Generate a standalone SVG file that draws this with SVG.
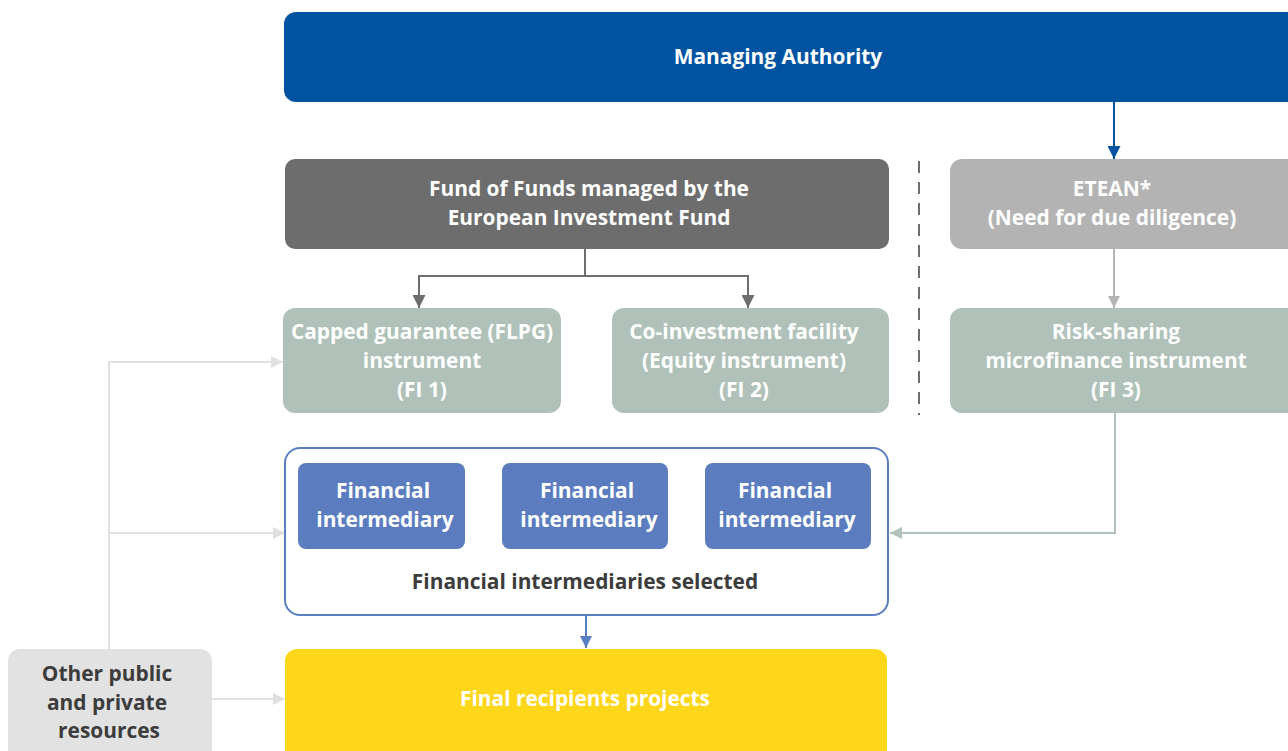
<svg xmlns="http://www.w3.org/2000/svg" width="1288" height="751" viewBox="0 0 1288 751">
  <defs>
    <style>
      text { font-family: "Open Sans", "Liberation Sans", sans-serif; font-weight: bold; font-size: 20.9px; text-anchor: middle; }
      .w { fill: #ffffff; }
      .d { fill: #3c3c3c; }
      .conn { fill: none; stroke-width: 2; }
    </style>
    <marker id="ahBlue" viewBox="0 0 10 10" refX="10" refY="5" markerWidth="13" markerHeight="13" markerUnits="userSpaceOnUse" orient="auto">
      <path d="M0,0 L10,5 L0,10 Z" fill="#0053a0"/>
    </marker>
    <marker id="ahDark" viewBox="0 0 10 10" refX="10" refY="5" markerWidth="13" markerHeight="13" markerUnits="userSpaceOnUse" orient="auto">
      <path d="M0,0 L10,5 L0,10 Z" fill="#6d6d6d"/>
    </marker>
    <marker id="ahGray" viewBox="0 0 10 10" refX="10" refY="5" markerWidth="12" markerHeight="12" markerUnits="userSpaceOnUse" orient="auto">
      <path d="M0,0 L10,5 L0,10 Z" fill="#b5b5b5"/>
    </marker>
    <marker id="ahSage" viewBox="0 0 10 10" refX="10" refY="5" markerWidth="12" markerHeight="12" markerUnits="userSpaceOnUse" orient="auto">
      <path d="M0,0 L10,5 L0,10 Z" fill="#b0c2b9"/>
    </marker>
    <marker id="ahLight" viewBox="0 0 10 10" refX="10" refY="5" markerWidth="12" markerHeight="12" markerUnits="userSpaceOnUse" orient="auto">
      <path d="M0,0 L10,5 L0,10 Z" fill="#e0e0e0"/>
    </marker>
    <marker id="ahFi" viewBox="0 0 10 10" refX="10" refY="5" markerWidth="12" markerHeight="12" markerUnits="userSpaceOnUse" orient="auto">
      <path d="M0,0 L10,5 L0,10 Z" fill="#5a7ec0"/>
    </marker>
  </defs>

  <rect width="1288" height="751" fill="#ffffff"/>

  <!-- connectors -->
  <g id="connectors">
    <path class="conn" d="M1114,102 V159" stroke="#0053a0" marker-end="url(#ahBlue)"/>
    <path class="conn" d="M585,249 V276 M419,276 H748" stroke="#6d6d6d"/>
    <path class="conn" d="M419,275 V308" stroke="#6d6d6d" marker-end="url(#ahDark)"/>
    <path class="conn" d="M748,275 V308" stroke="#6d6d6d" marker-end="url(#ahDark)"/>
    <path class="conn" d="M1114,249 V308" stroke="#b5b5b5" marker-end="url(#ahGray)"/>
    <path class="conn" d="M1115,413 V533 H890" stroke="#b0c2b9" marker-end="url(#ahSage)"/>
    <path class="conn" d="M586,615 V648" stroke="#5a7ec0" marker-end="url(#ahFi)"/>
    <path class="conn" d="M109,649 V362 H283" stroke="#e0e0e0" marker-end="url(#ahLight)"/>
    <path class="conn" d="M109,533 H285" stroke="#e0e0e0" marker-end="url(#ahLight)"/>
    <path class="conn" d="M212,699 H285" stroke="#e0e0e0" marker-end="url(#ahLight)"/>
    <path d="M919,161 V415" fill="none" stroke="#6d6d6d" stroke-width="2" stroke-dasharray="12,9"/>
  </g>

  <g id="managing-authority">
    <rect x="284" y="12" width="1016" height="90" rx="12" fill="#0053a0"/>
    <text class="w" x="778" y="64">Managing Authority</text>
  </g>

  <g id="fund-of-funds">
    <rect x="285" y="159" width="604" height="90" rx="10" fill="#6d6d6d"/>
    <text class="w" x="589" y="196">Fund of Funds managed by the</text>
    <text class="w" x="589" y="225">European Investment Fund</text>
  </g>

  <g id="etean">
    <rect x="950" y="159" width="350" height="90" rx="12" fill="#b3b3b3"/>
    <text class="w" x="1112" y="196">ETEAN*</text>
    <text class="w" x="1112" y="225">(Need for due diligence)</text>
  </g>

  <g id="fi1">
    <rect x="283" y="308" width="278" height="105" rx="12" fill="#afc1b9"/>
    <text class="w" x="422" y="339">Capped guarantee (FLPG)</text>
    <text class="w" x="422" y="368">instrument</text>
    <text class="w" x="422" y="397">(FI 1)</text>
  </g>

  <g id="fi2">
    <rect x="612" y="308" width="277" height="105" rx="12" fill="#afc1b9"/>
    <text class="w" x="744" y="339">Co-investment facility</text>
    <text class="w" x="744" y="368">(Equity instrument)</text>
    <text class="w" x="744" y="397">(FI 2)</text>
  </g>

  <g id="fi3">
    <rect x="950" y="308" width="350" height="105" rx="12" fill="#afc1b9"/>
    <text class="w" x="1116" y="339">Risk-sharing</text>
    <text class="w" x="1116" y="368">microfinance instrument</text>
    <text class="w" x="1116" y="397">(FI 3)</text>
  </g>

  <g id="intermediaries">
    <rect x="285" y="448" width="603" height="167" rx="15" fill="#ffffff" stroke="#5a7ec0" stroke-width="2"/>
    <rect x="298" y="463" width="167" height="86" rx="8" fill="#5b7dbf"/>
    <text class="w" x="383" y="498">Financial</text>
    <text class="w" x="385" y="527">intermediary</text>
    <rect x="502" y="463" width="166" height="86" rx="8" fill="#5b7dbf"/>
    <text class="w" x="587" y="498">Financial</text>
    <text class="w" x="589" y="527">intermediary</text>
    <rect x="705" y="463" width="166" height="86" rx="8" fill="#5b7dbf"/>
    <text class="w" x="785" y="498">Financial</text>
    <text class="w" x="787" y="527">intermediary</text>
    <text class="d" x="585" y="589">Financial intermediaries selected</text>
  </g>

  <g id="final-recipients">
    <rect x="285" y="649" width="602" height="120" rx="12" fill="#fed61a"/>
    <text class="w" x="585" y="706">Final recipients projects</text>
  </g>

  <g id="other-resources">
    <rect x="8" y="649" width="204" height="120" rx="12" fill="#e2e2e2"/>
    <text class="d" x="107" y="681">Other public</text>
    <text class="d" x="107" y="710">and private</text>
    <text class="d" x="109" y="738">resources</text>
  </g>
</svg>
